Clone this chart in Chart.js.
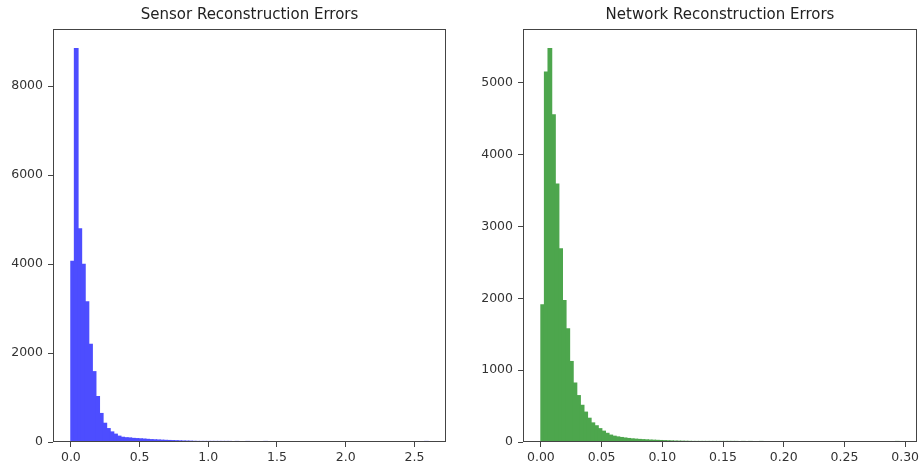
<!DOCTYPE html>
<html lang="en">
<head>
    <meta charset="UTF-8">
    <title>Reconstruction Errors</title>
    <script src="https://cdn.jsdelivr.net/npm/chart.js"></script>
    <style>
        body { margin: 0; background: #fff; overflow: hidden; }
        #wrap { position: relative; width: 919px; height: 465px; }
        canvas { position: absolute; top: 0; }
    </style>
</head>
<body>
<div id="wrap">
    <canvas id="sensorChart" width="460" height="465" style="left:0"></canvas>
    <canvas id="networkChart" width="459" height="465" style="left:460px"></canvas>
</div>

<script>
    // --- Data: histogram counts (100 bins each) ---
    const sensorTitle = 'Sensor Reconstruction Errors';
    const sensorBinStart = 0.0;
    const sensorBinWidth = 0.026;
    const sensorCounts = [
        4060, 8840, 4790, 3990, 3150, 2195, 1580, 1020, 640, 420,
        300, 225, 175, 130, 105, 95, 90, 80, 75, 70,
        65, 58, 52, 48, 44, 40, 36, 33, 30, 27,
        24, 21, 19, 17, 14, 12, 9, 7, 5, 4,
        3, 2, 2, 1, 1, 0, 1, 0, 0, 1,
        0, 0, 0, 0, 1, 0, 0, 0, 0, 0,
        0, 0, 0, 0, 0, 0, 0, 0, 0, 0,
        0, 0, 0, 0, 0, 0, 0, 0, 0, 0,
        0, 0, 0, 0, 0, 0, 0, 0, 0, 0,
        0, 0, 0, 0, 0, 0, 0, 0, 0, 1
    ];
    const sensorXTicks = [0, 0.5, 1.0, 1.5, 2.0, 2.5];
    const sensorYTicks = [0, 2000, 4000, 6000, 8000];

    const networkTitle = 'Network Reconstruction Errors';
    const networkBinStart = 0.0;
    const networkBinWidth = 0.00295;
    const networkCounts = [
        1910, 5150, 5475, 4555, 3590, 2690, 1970, 1575, 1120, 820,
        645, 510, 415, 330, 265, 225, 185, 150, 120, 95,
        80, 70, 62, 55, 48, 43, 39, 35, 32, 29,
        26, 24, 22, 20, 18, 16, 14, 12, 11, 10,
        9, 8, 7, 6, 5, 5, 4, 4, 3, 3,
        2, 2, 1, 1, 1, 0, 1, 0, 1, 0,
        0, 1, 0, 0, 0, 0, 0, 0, 0, 0,
        0, 0, 0, 0, 0, 0, 0, 0, 0, 0,
        0, 0, 0, 0, 0, 0, 0, 0, 0, 0,
        0, 0, 0, 0, 0, 0, 0, 0, 0, 1
    ];
    const networkXTicks = [0, 0.05, 0.10, 0.15, 0.20, 0.25, 0.30];
    const networkYTicks = [0, 1000, 2000, 3000, 4000, 5000];

    Chart.defaults.font.family = "'DejaVu Sans', sans-serif";
    Chart.defaults.color = '#333';

    // Rahmen um die Plotfläche (wie bei matplotlib)
    const framePlugin = {
        id: 'frame',
        afterDatasetsDraw(chart) {
            const { ctx, chartArea: a } = chart;
            ctx.save();
            ctx.strokeStyle = '#444';
            ctx.lineWidth = 1;
            ctx.strokeRect(Math.round(a.left) + 0.5, Math.round(a.top) + 0.5,
                Math.round(a.right - a.left) - 1, Math.round(a.bottom - a.top) - 1);
            ctx.restore();
        }
    };

    function histChart(canvasId, title, counts, binStart, binWidth, color,
                       xMin, xMax, xTicks, xDigits, yMax, yTicks, yAxisWidth, padRight) {
        // bars sit at the bin centres
        const points = counts.map((c, i) => ({ x: binStart + (i + 0.5) * binWidth, y: c }));
        return new Chart(document.getElementById(canvasId), {
            type: 'bar',
            data: {
                datasets: [{
                    data: points,
                    backgroundColor: color,
                    borderWidth: 0,
                    inflateAmount: 0.6,
                    barPercentage: 1.0,
                    categoryPercentage: 1.0,
                    grouped: false
                }]
            },
            options: {
                responsive: false,
                animation: false,
                layout: { padding: { top: 0, right: padRight, bottom: 0, left: 0 } },
                scales: {
                    x: {
                        type: 'linear',
                        min: xMin,
                        max: xMax,
                        offset: false,
                        afterBuildTicks: s => { s.ticks = xTicks.map(v => ({ value: v })); },
                        afterFit: s => { s.height = 23; s.paddingLeft = 0; s.paddingRight = 0; },
                        grid: { display: true, drawOnChartArea: false, offset: false, tickLength: 5, tickColor: '#444' },
                        border: { display: false },
                        ticks: {
                            autoSkip: false, maxRotation: 0, padding: 3,
                            font: { size: 12.5 }, color: '#333',
                            callback: v => v.toFixed(xDigits)
                        }
                    },
                    y: {
                        min: 0,
                        max: yMax,
                        afterBuildTicks: s => { s.ticks = yTicks.map(v => ({ value: v })); },
                        afterFit: s => { s.width = yAxisWidth; s.paddingTop = 0; s.paddingBottom = 0; },
                        grid: { display: true, drawOnChartArea: false, tickLength: 5, tickColor: '#444' },
                        border: { display: false },
                        ticks: {
                            padding: 5, font: { size: 12.5 }, color: '#333',
                            callback: v => String(v)
                        }
                    }
                },
                plugins: {
                    legend: { display: false },
                    tooltip: { enabled: false },
                    title: {
                        display: true,
                        text: title,
                        fullSize: false,
                        color: '#222',
                        font: { size: 15, weight: 'normal' },
                        padding: { top: 6, bottom: 5 }
                    }
                }
            },
            plugins: [framePlugin]
        });
    }

    // Plot 1: Sensor
    histChart('sensorChart', sensorTitle, sensorCounts, sensorBinStart, sensorBinWidth,
        'rgb(77, 77, 255)', -0.13, 2.73, sensorXTicks, 1, 9282, sensorYTicks, 53, 14);

    // Plot 2: Network
    histChart('networkChart', networkTitle, networkCounts, networkBinStart, networkBinWidth,
        'rgb(77, 166, 77)', -0.01475, 0.30975, networkXTicks, 2, 5749, networkYTicks, 63, 2);
</script>
</body>
</html>
